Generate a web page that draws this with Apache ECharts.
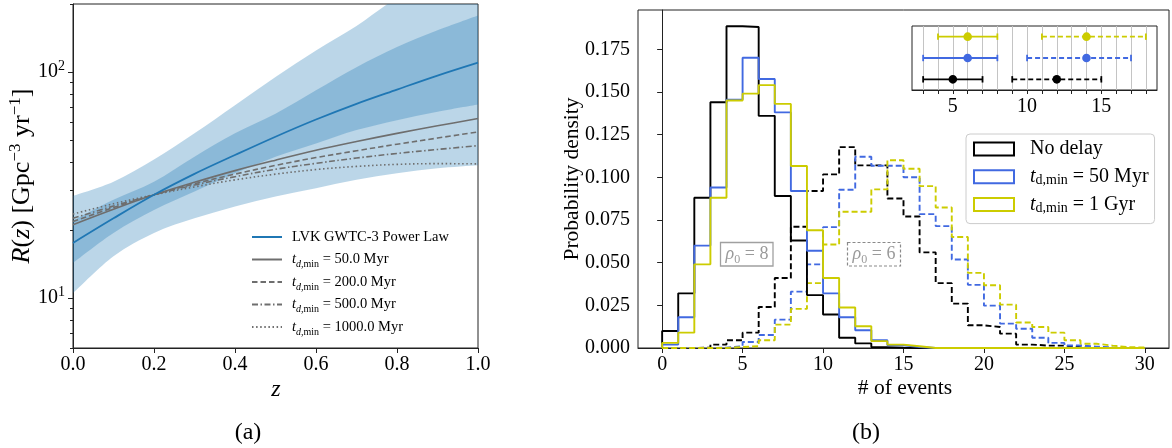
<!DOCTYPE html>
<html><head><meta charset="utf-8">
<script src="https://cdn.jsdelivr.net/npm/echarts@6/dist/echarts.min.js"></script>
<style>html,body{margin:0;padding:0;background:#fff}#c{width:1172px;height:448px}</style>
</head><body><div id="c"></div>
<script>
// ---------- Panel (a): merger rate vs redshift ----------
const Z = [0, 0.1, 0.2, 0.3, 0.4, 0.5, 0.6, 0.7, 0.8, 0.9, 1.0];
const lvkMedian = [17.5, 22.5, 28.6, 35.4, 42.9, 51.7, 61.6, 72.3, 83.6, 96.4, 110];
const lvkLo50 = [14.3, 19.4, 24.5, 29.6, 35.6, 42.2, 48.3, 55.3, 61.2, 66.7, 71.8];
const lvkHi50 = [22.0, 27.2, 32.7, 42.2, 53.5, 65.4, 83, 105, 129, 153, 178];
const lvkLo90 = [10.5, 15.3, 19.4, 22.5, 25.4, 28.1, 30.6, 33.3, 35.6, 37.5, 38.7];
const lvkHi90 = [28.3, 32.7, 41.0, 53.5, 71.3, 95, 124.6, 160, 213, 263, 316];
const td50 = [21.1, 24.7, 28.6, 32.5, 36.6, 40.7, 45.0, 49.2, 53.5, 57.8, 62.2];
const td200 = [21.8, 25.1, 28.6, 32.0, 35.3, 38.6, 41.8, 44.8, 47.9, 51.0, 54.3];
const td500 = [22.5, 25.5, 28.6, 31.6, 34.4, 37.1, 39.4, 41.6, 43.6, 45.4, 47.2];
const td1000 = [23.5, 26.1, 28.6, 31.0, 33.3, 35.3, 37.0, 38.2, 39.0, 39.3, 39.2];
const zTicks = [0, 0.2, 0.4, 0.6, 0.8, 1.0];
const rMajorTicks = [10, 100];
const rMinorTicks = [6, 7, 8, 9, 20, 30, 40, 50, 60, 70, 80, 90, 200];

// ---------- Panel (b): histograms of # of events ----------
const binEdges = [0,1,2,3,4,5,6,7,8,9,10,11,12,13,14,15,16,17,18,19,20,21,22,23,24,25,26,27,28,29,30];
const noDelay8 = [0.010,0.032,0.088,0.144,0.1885,0.188,0.136,0.089,0.063,0.031,0.0196,0.006,0.0027,0.0005,0.0002,0,0,0,0,0,0,0,0,0,0,0,0,0,0,0];
const td50r8   = [0.002,0.018,0.060,0.094,0.1455,0.170,0.1576,0.138,0.092,0.057,0.032,0.018,0.0104,0.0045,0.0016,0.0006,0,0,0,0,0,0,0,0,0,0,0,0,0,0];
const td1Gr8   = [0.003,0.009,0.049,0.088,0.145,0.149,0.154,0.143,0.1066,0.069,0.041,0.0237,0.0127,0.004,0.002,0.001,0,0,0,0,0,0,0,0,0,0,0,0,0,0];
const noDelay6 = [0,0,0.0003,0.002,0.0045,0.009,0.024,0.041,0.071,0.092,0.1017,0.1177,0.107,0.107,0.0876,0.077,0.056,0.038,0.026,0.0133,0.0123,0.0084,0.002,0.0014,0.0014,0.0004,0,0,0,0];
const td50r6   = [0,0,0,0.0002,0.001,0.0035,0.0076,0.0166,0.033,0.049,0.0708,0.0927,0.112,0.1068,0.1068,0.100,0.0784,0.0714,0.0518,0.037,0.0248,0.0143,0.0113,0.006,0.003,0.0015,0.0008,0.0003,0.0001,0.0001];
const td1Gr6   = [0,0,0,0,0.0006,0.001,0.0045,0.0137,0.0229,0.038,0.0606,0.0798,0.0798,0.0929,0.110,0.105,0.0948,0.0823,0.065,0.044,0.0368,0.0254,0.0149,0.0123,0.009,0.0045,0.0025,0.0014,0.0005,0.0003];
const nTicks = [0, 5, 10, 15, 20, 25, 30];
const pTicks = [0, 0.025, 0.05, 0.075, 0.1, 0.125, 0.15, 0.175];

// ---------- Inset: medians and intervals ----------
const insetCats = ['No delay', '50 Myr', '1 Gyr'];
const eb8Lo = [3, 3, 4], eb8Mid = [5, 6, 6], eb8Hi = [7, 8, 8];
const eb6Lo = [9, 10, 11], eb6Mid = [12, 14, 14], eb6Hi = [15, 17, 18];
const insetLabelTicks = [5, 10, 15];
const insetTicks = [3,4,5,6,7,8,9,10,11,12,13,14,15,16,17,18];

// ---------- styling ----------
const FONT = '"Liberation Serif", "DejaVu Serif", serif';
const GRAY = '#6e6e6e';
const TAB_BLUE = '#1f77b4';
const HCOL = ['#000000', '#4169e1', '#cccc00'];

const pairs = (xs, ys) => xs.map((x, i) => [x, ys[i]]);
const stepData = vals => {
  const d = [[binEdges[0], 0]];
  vals.forEach((v, i) => d.push([binEdges[i], v]));
  d.push([binEdges[vals.length], 0]);
  return d;
};

// Catmull-Rom spline through pixel points -> SVG path commands
function splinePath(pts, moveFirst) {
  let s = (moveFirst ? 'M' : 'L') + pts[0][0] + ' ' + pts[0][1];
  for (let i = 0; i < pts.length - 1; i++) {
    const p0 = pts[Math.max(i - 1, 0)], p1 = pts[i], p2 = pts[i + 1], p3 = pts[Math.min(i + 2, pts.length - 1)];
    const c1 = [p1[0] + (p2[0] - p0[0]) / 6, p1[1] + (p2[1] - p0[1]) / 6];
    const c2 = [p2[0] - (p3[0] - p1[0]) / 6, p2[1] - (p3[1] - p1[1]) / 6];
    s += ' C' + c1[0] + ' ' + c1[1] + ' ' + c2[0] + ' ' + c2[1] + ' ' + p2[0] + ' ' + p2[1];
  }
  return s;
}

function band(name, lo, hi, color) {
  return {
    name: name, type: 'custom', xAxisIndex: 0, yAxisIndex: 0, z: 1, silent: true,
    data: Z.map((z, i) => [z, lo[i], hi[i]]),
    encode: {x: 0, y: [1, 2]},
    renderItem: (params, api) => {
      if (params.dataIndexInside !== 0) return null;
      const n = params.dataInsideLength;
      const up = [], dn = [];
      for (let i = 0; i < n; i++) {
        up.push(api.coord([api.value(0, i), api.value(2, i)]));
        dn.push(api.coord([api.value(0, i), api.value(1, i)]));
      }
      dn.reverse();
      const d = splinePath(up, true) + ' ' + splinePath(dn, false) + ' Z';
      const cs = params.coordSys;
      return {
        type: 'path', shape: {pathData: d},
        style: {fill: color, stroke: null},
        clipPath: {type: 'rect', shape: {x: cs.x, y: cs.y, width: cs.width, height: cs.height}}
      };
    }
  };
}
const SM = 0.35;
function grayLine(name, vals, dash) {
  return {name: name, type: 'line', xAxisIndex: 0, yAxisIndex: 0, data: pairs(Z, vals), symbol: 'none', smooth: SM,
    lineStyle: {color: GRAY, width: 1.6, type: dash}, itemStyle: {color: GRAY}, z: 4};
}
function hist(name, vals, col, dashed) {
  return {name: name, type: 'line', step: 'end', xAxisIndex: 1, yAxisIndex: 2, data: stepData(vals), symbol: 'none',
    lineStyle: {color: col, width: 1.9, type: dashed ? [6, 3] : 'solid'}, itemStyle: {color: col}, z: 3};
}
function errBars(lo, mid, hi, dashed) {
  return {
    type: 'custom', xAxisIndex: 2, yAxisIndex: 3, z: 5, silent: true,
    data: insetCats.map((c, i) => [i, lo[i], mid[i], hi[i]]),
    encode: {x: [1, 2, 3], y: 0},
    renderItem: (params, api) => {
      const k = api.value(0);
      const a = api.coord([api.value(1), k]);
      const m = api.coord([api.value(2), k]);
      const b = api.coord([api.value(3), k]);
      const col = HCOL[params.dataIndex];
      const cap = 3.2;
      return {type: 'group', children: [
        {type: 'line', shape: {x1: a[0], y1: a[1], x2: b[0], y2: b[1]}, style: {stroke: col, lineWidth: 1.8, lineDash: dashed ? [5, 3] : null}},
        {type: 'line', shape: {x1: a[0], y1: a[1] - cap, x2: a[0], y2: a[1] + cap}, style: {stroke: col, lineWidth: 1.8}},
        {type: 'line', shape: {x1: b[0], y1: b[1] - cap, x2: b[0], y2: b[1] + cap}, style: {stroke: col, lineWidth: 1.8}},
        {type: 'circle', shape: {cx: m[0], cy: m[1], r: 4.3}, style: {fill: col}}
      ]};
    }
  };
}

const subRich = {
  it: {fontFamily: FONT, fontStyle: 'italic'},
  sub: {fontFamily: FONT, fontSize: 10, lineHeight: 10, verticalAlign: 'bottom'},
  subi: {fontFamily: FONT, fontSize: 10, lineHeight: 10, verticalAlign: 'bottom', fontStyle: 'italic'}
};
const leftNames = {
  'LVK GWTC-3 Power Law': 'LVK GWTC-3 Power Law',
  'td50': '{it|t}{subi|d}{sub|,min} = 50.0 Myr',
  'td200': '{it|t}{subi|d}{sub|,min} = 200.0 Myr',
  'td500': '{it|t}{subi|d}{sub|,min} = 500.0 Myr',
  'td1000': '{it|t}{subi|d}{sub|,min} = 1000.0 Myr'
};
const rightNames = {
  'No delay': 'No delay',
  't50': '{it|t}{sub|d,min} = 50 Myr',
  't1G': '{it|t}{sub|d,min} = 1 Gyr'
};

const axisTextBase = {fontFamily: FONT, color: '#000'};

const option = {
  animation: false,
  backgroundColor: '#fff',
  grid: [
    {left: 73, top: 4, width: 405, height: 344, show: true, borderColor: '#222', borderWidth: 1, backgroundColor: 'transparent'},
    {left: 638, top: 10, width: 531, height: 338, show: true, borderColor: '#222', borderWidth: 1, backgroundColor: 'transparent'},
    {left: 912, top: 26, width: 245, height: 64, show: true, borderColor: '#222', borderWidth: 1, backgroundColor: '#fff', z: 4}
  ],
  xAxis: [
    {type: 'value', gridIndex: 0, min: 0, max: 1, interval: 0.2,
     axisLine: {show: true, lineStyle: {color: '#222', width: 1}}, splitLine: {show: false},
     axisTick: {show: true, length: 5, lineStyle: {color: '#222'}},
     axisLabel: {...axisTextBase, fontSize: 20, margin: 7, formatter: v => v.toFixed(1)}},
    {type: 'value', gridIndex: 1, min: -1.5, max: 31.5,
     axisLine: {show: true, lineStyle: {color: '#222', width: 1}}, splitLine: {show: false},
     axisTick: {show: true, length: 5, customValues: nTicks, lineStyle: {color: '#222'}},
     axisLabel: {...axisTextBase, fontSize: 20, margin: 7, customValues: nTicks}},
    {type: 'value', gridIndex: 2, min: 2.25, max: 18.75,
     axisLine: {show: true, lineStyle: {color: '#222', width: 1}}, splitLine: {show: false},
     axisTick: {show: true, length: 4, customValues: insetTicks, lineStyle: {color: '#222'}},
     axisLabel: {...axisTextBase, fontSize: 20, margin: 7, customValues: insetLabelTicks}, z: 5}
  ],
  yAxis: [
    {type: 'log', logBase: 10, gridIndex: 0, min: 6, max: 200, position: 'left',
     axisLine: {show: true, lineStyle: {color: '#222', width: 1}}, splitLine: {show: false},
     axisTick: {show: true, length: 5, customValues: rMajorTicks, lineStyle: {color: '#222'}},
     axisLabel: {...axisTextBase, fontSize: 20, margin: 8, customValues: rMajorTicks,
       formatter: v => '{b|10}{sup|' + Math.round(Math.log10(v)) + '}',
       rich: {b: {fontFamily: FONT, fontSize: 20, lineHeight: 26, color: '#000'},
              sup: {fontFamily: FONT, fontSize: 14, lineHeight: 14, verticalAlign: 'top', color: '#000'}}}},
    {type: 'log', logBase: 10, gridIndex: 0, min: 6, max: 200, position: 'left',
     axisLine: {show: false}, splitLine: {show: false}, axisLabel: {show: false},
     axisTick: {show: true, length: 3, customValues: rMinorTicks, lineStyle: {color: '#222'}}},
    {type: 'value', gridIndex: 1, min: 0, max: 0.198, position: 'left',
     axisLine: {show: true, lineStyle: {color: '#222', width: 1}}, splitLine: {show: false},
     axisTick: {show: true, length: 5, customValues: pTicks, lineStyle: {color: '#222'}},
     axisLabel: {...axisTextBase, fontSize: 20, margin: 8, customValues: pTicks, formatter: v => v.toFixed(3)}},
    {type: 'category', gridIndex: 2, data: insetCats, position: 'left',
     axisLine: {show: false}, axisTick: {show: false}, axisLabel: {show: false}, splitLine: {show: false}}
  ],
  legend: [
    {orient: 'vertical', left: 251, top: 227, padding: 0, itemWidth: 30, itemHeight: 12, itemGap: 2.5,
     data: ['LVK GWTC-3 Power Law', 'td50', 'td200', 'td500', 'td1000'],
     formatter: n => leftNames[n], itemStyle: {opacity: 0},
     textStyle: {fontFamily: FONT, fontSize: 14.5, lineHeight: 20, color: '#000', padding: [0, 0, 0, 5], rich: subRich}},
    {orient: 'vertical', left: 966, top: 134, padding: [4, 6, 8, 7], itemWidth: 40, itemHeight: 13, itemGap: 5.8,
     backgroundColor: 'rgba(255,255,255,0.85)', borderColor: '#cccccc', borderWidth: 1, borderRadius: 4,
     data: [
       {name: 'No delay', icon: 'rect', itemStyle: {color: 'rgba(0,0,0,0)', borderColor: HCOL[0], borderWidth: 2}},
       {name: 't50', icon: 'rect', itemStyle: {color: 'rgba(0,0,0,0)', borderColor: HCOL[1], borderWidth: 2}},
       {name: 't1G', icon: 'rect', itemStyle: {color: 'rgba(0,0,0,0)', borderColor: HCOL[2], borderWidth: 2}}
     ],
     formatter: n => rightNames[n],
     textStyle: {fontFamily: FONT, fontSize: 20, lineHeight: 22, color: '#000', padding: [0, 0, 0, 11],
       rich: {it: {fontFamily: FONT, fontStyle: 'italic', fontSize: 20, lineHeight: 22},
              sub: {fontFamily: FONT, fontSize: 14, lineHeight: 12, verticalAlign: 'bottom'}}}}
  ],
  series: [
    band('band90', lvkLo90, lvkHi90, 'rgba(31,119,180,0.3)'),
    band('band50', lvkLo50, lvkHi50, 'rgba(31,119,180,0.3)'),
    {name: 'LVK GWTC-3 Power Law', type: 'line', xAxisIndex: 0, yAxisIndex: 0, data: pairs(Z, lvkMedian), symbol: 'none', smooth: SM,
     lineStyle: {color: TAB_BLUE, width: 1.8}, itemStyle: {color: TAB_BLUE}, z: 5},
    grayLine('td50', td50, 'solid'),
    grayLine('td200', td200, [5.5, 3]),
    grayLine('td500', td500, [6, 2.5, 1.5, 2.5]),
    grayLine('td1000', td1000, [1.5, 2.6]),
    hist('No delay (rho0=6)', noDelay6, HCOL[0], true),
    hist('t50 (rho0=6)', td50r6, HCOL[1], true),
    hist('t1G (rho0=6)', td1Gr6, HCOL[2], true),
    hist('No delay', noDelay8, HCOL[0], false),
    hist('t50', td50r8, HCOL[1], false),
    hist('t1G', td1Gr8, HCOL[2], false),
    {name: 'insetGrid', type: 'line', xAxisIndex: 2, yAxisIndex: 3, data: [], silent: true, z: 4,
     markLine: {silent: true, symbol: ['none', 'none'], label: {show: false}, animation: false,
       lineStyle: {color: '#c4c4c4', width: 1, type: 'solid'}, data: insetTicks.map(v => ({xAxis: v}))}},
    errBars(eb8Lo, eb8Mid, eb8Hi, false),
    errBars(eb6Lo, eb6Mid, eb6Hi, true)
  ],
  graphic: [
    {type: 'text', x: 22, y: 176, rotation: Math.PI / 2, z: 10,
     style: {text: '{it|R}({it|z}) [Gpc{sup|−3} yr{sup|−1}]', fontFamily: FONT, fontSize: 26, lineHeight: 30, fill: '#000',
       align: 'center', verticalAlign: 'middle',
       rich: {it: {fontFamily: FONT, fontStyle: 'italic', fontSize: 26, lineHeight: 30},
              sup: {fontFamily: FONT, fontSize: 17, lineHeight: 17, verticalAlign: 'top'}}}},
    {type: 'text', x: 276, y: 390, z: 10,
     style: {text: 'z', fontFamily: FONT, fontStyle: 'italic', fontSize: 24, fill: '#000', align: 'center', verticalAlign: 'middle'}},
    {type: 'text', x: 248, y: 433, z: 10,
     style: {text: '(a)', fontFamily: FONT, fontSize: 24, fill: '#000', align: 'center', verticalAlign: 'middle'}},
    {type: 'text', x: 572, y: 179, rotation: Math.PI / 2, z: 10,
     style: {text: 'Probability density', fontFamily: FONT, fontSize: 21.5, fill: '#000', align: 'center', verticalAlign: 'middle'}},
    {type: 'text', x: 905, y: 388, z: 10,
     style: {text: '# of events', fontFamily: FONT, fontSize: 21.5, fill: '#000', align: 'center', verticalAlign: 'middle'}},
    {type: 'text', x: 866, y: 433, z: 10,
     style: {text: '(b)', fontFamily: FONT, fontSize: 24, fill: '#000', align: 'center', verticalAlign: 'middle'}},
    {type: 'rect', z: 9, shape: {x: 720.5, y: 242.5, width: 52.5, height: 23.5}, style: {fill: '#fff', stroke: '#a0a0a0', lineWidth: 1.3}},
    {type: 'text', x: 747, y: 254.5, z: 10,
     style: {text: '{it|ρ}{sub|0} = 8', fontFamily: FONT, fontSize: 18, lineHeight: 22, fill: '#9a9a9a', align: 'center', verticalAlign: 'middle',
       rich: {it: {fontFamily: FONT, fontStyle: 'italic', fontSize: 18, lineHeight: 22, color: '#9a9a9a'},
              sub: {fontFamily: FONT, fontSize: 12, lineHeight: 12, verticalAlign: 'bottom', color: '#9a9a9a'}}}},
    {type: 'rect', z: 9, shape: {x: 847.5, y: 242.5, width: 53, height: 23.5}, style: {fill: '#fff', stroke: '#8a8a8a', lineWidth: 1.2, lineDash: [3, 2]}},
    {type: 'text', x: 874, y: 254.5, z: 10,
     style: {text: '{it|ρ}{sub|0} = 6', fontFamily: FONT, fontSize: 18, lineHeight: 22, fill: '#9a9a9a', align: 'center', verticalAlign: 'middle',
       rich: {it: {fontFamily: FONT, fontStyle: 'italic', fontSize: 18, lineHeight: 22, color: '#9a9a9a'},
              sub: {fontFamily: FONT, fontSize: 12, lineHeight: 12, verticalAlign: 'bottom', color: '#9a9a9a'}}}}
  ]
};

const chart = echarts.init(document.getElementById('c'));
chart.setOption(option);
</script>
</body></html>
